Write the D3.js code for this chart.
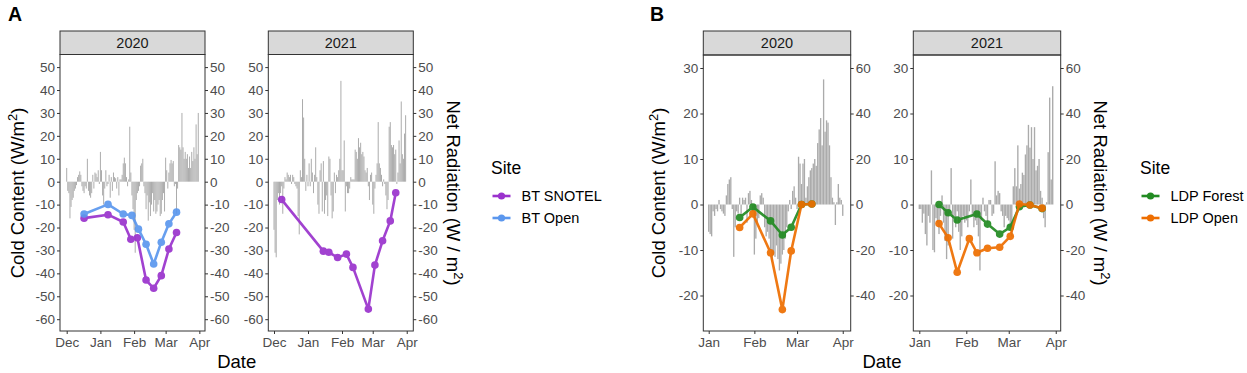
<!DOCTYPE html>
<html><head><meta charset="utf-8">
<script src="https://cdn.jsdelivr.net/npm/d3@7"></script>
<style>body{margin:0;background:#fff} svg text{font-family:"Liberation Sans",Arial,sans-serif}</style>
</head><body><svg id="c" width="1247" height="373"></svg>
<script>
// ---------------- DATA ----------------
const sitesA = ["BT SNOTEL", "BT Open"];
const sitesB = ["LDP Forest", "LDP Open"];
const years = ["2020", "2021"];

// Cold content (W/m2), panel A
const btSnotel2020Dates = ["2019-12-17","2020-01-08","2020-01-22","2020-01-29","2020-02-04","2020-02-12","2020-02-19","2020-02-26","2020-03-04","2020-03-11"];
const btSnotel2020 = [-15.9,-14.4,-17.6,-25.1,-24.5,-42.9,-46.5,-41.0,-29.4,-22.2];
const btOpen2020Dates = ["2019-12-17","2020-01-08","2020-01-22","2020-01-30","2020-02-05","2020-02-12","2020-02-19","2020-02-26","2020-03-04","2020-03-11"];
const btOpen2020 = [-14.1,-9.9,-14.1,-14.7,-20.7,-27.3,-35.9,-26.4,-18.4,-13.3];
const btSnotel2021Dates = ["2020-12-08","2021-01-15","2021-01-20","2021-01-28","2021-02-05","2021-02-11","2021-02-25","2021-03-03","2021-03-10","2021-03-17","2021-03-22"];
const btSnotel2021 = [-7.8,-30.3,-30.8,-33.1,-31.6,-37.4,-55.6,-36.4,-25.8,-17.1,-4.8];

// Cold content (W/m2), panel B
const ldp2020Dates = ["2020-01-22","2020-01-31","2020-02-12","2020-02-20","2020-02-26","2020-03-04","2020-03-11"];
const ldpForest2020 = [-2.85,-0.55,-3.6,-6.7,-5.0,0,0.1];
const ldpOpen2020 = [-5.05,-2.05,-10.6,-23.1,-10.2,0,0.1];
const ldpForest2021Dates = ["2021-01-14","2021-01-20","2021-01-26","2021-02-08","2021-02-15","2021-02-23","2021-03-02","2021-03-08","2021-03-15","2021-03-23"];
const ldpForest2021 = [0,-1.8,-3.4,-2.1,-4.3,-6.5,-5.0,-0.5,-0.1,-0.9];
const ldpOpen2021Dates = ["2021-01-14","2021-01-20","2021-01-26","2021-02-03","2021-02-08","2021-02-15","2021-02-23","2021-03-02","2021-03-08","2021-03-15","2021-03-23"];
const ldpOpen2021 = [-4.2,-7.3,-14.9,-7.5,-10.6,-9.6,-9.4,-7.0,0.1,-0.1,-0.8];

// Daily net radiation (W/m2), first day of each record
const netRadStart = ["2019-12-01","2020-12-01","2020-01-01","2021-01-01"];
const netRadA2020 = [6,-4,-5,-16,-11,-8,-7,-4,-3,-1.5,2,3,4.5,3,-2,-4,-5,-2,-3,10,-4,-6,-7,-5,3,-3,4,3.5,2,5,-1,13,5,-6,-10,-3,5,-2,-1,3,-7,2,-4,4,2,1.5,-3,2,-6,1,1,3,8,10.5,8,2,-2,1,24,4,-6,-12,-21,-31,-8,-5,-4,-2,7,8,10,-2,-5,-12,-6,-17,-9,-15,-10,-5,-13,-8,-14,-13,-10,-8,-15,-14,-8,-5,-13,10.5,5,-3,4,8,9.5,8,9,-2,-1,-14,-3,16,15,14,30,15,10,13,10,12,6,11,6,13,9,15,10,25,12,30];
const netRadA2021 = [-21,-31,-33,-8,-5,-10,-5,-2,-14,-3,2,1,4,3,2,3,-1,3,2,-1,-2,-3,-15,-23,5,2,36,28,10,-4,3,-2,8,-2,10,4,-5,3,15,2,-10,-14,5,8,-13,9,-14,-8,-6,-15,11,10,-6,-16,-13,4,-5,3,2,5,10,44,5,5,18,-13,-2,-5,-5,-3,2,1,1,1,14,13,10,19,15,17,12,13,11,5,4,6,-2,-8,3,4,-10,-14,-3,3,8,26,8,6,3,-2,1,-1,-6,-12,-8,24,26,16,15,16,12,14,-1,4,18,8,35,12,10,21,29];
const netRadB2020 = [-12,-13,-14,-3,-5,-2,-3,2,-2,-3,-4,-5,4,9,11,12,-2,-23,-10,-3,-4,3,-5,3,2,3,-8,5,6,2,-3,-22,-15,-8,-6,4,5,3,-10,-14,-12,-15,-20,-25,-22,-23,-18,-24,-29,-26,-22,-20,-15,-10,-3,2,-2,6,8,3,-2,21,18,9,18,20,3,8,12,15,16,18,20,17,27,33,38,26,55,32,37,36,26,12,3,1,-9,1,9,3,2,-5];
const netRadB2021 = [-2,-2,-8,-4,-13,-18,-5,-8,15,-20,-21,-6,-8,-13,-5,4,-8,-16,-24,-18,-4,16,-15,-5,-10,-3,-12,-20,-14,-5,-8,-7,-10,-3,11,-5,-10,-7,-9,-14,-29,-7,3,-3,-5,-8,2,2,-5,-4,19,4,6,5,-3,-5,-10,-5,-6,-7,-10,-14,8,16,8,26,7,9,14,13,22,26,35,25,34,20,34,15,17,20,6,3,-6,-10,1,23,47,11,52];

// Tick labels
const ticksA = [50,40,30,20,10,0,-10,-20,-30,-40,-50,-60];
const ticksBLeft = [30,20,10,0,-10,-20];
const ticksBRight = [60,40,20,0,-20,-40];
const monthsA2020 = ["2019-12-01","2020-01-01","2020-02-01","2020-03-01","2020-04-01"];
const monthsA2021 = ["2020-12-01","2021-01-01","2021-02-01","2021-03-01","2021-04-01"];
const monthsB2020 = ["2020-01-01","2020-02-01","2020-03-01","2020-04-01"];
const monthsB2021 = ["2021-01-01","2021-02-01","2021-03-01","2021-04-01"];

// ---------------- DRAWING ----------------
const colors = {"BT SNOTEL":"#9A32CD","BT Open":"#5B97EE","LDP Forest":"#228B22","LDP Open":"#EE6E00"};
const P = d3.utcParse("%Y-%m-%d");
const DAY = 864e5;
const svg = d3.select("#c");

function series(dates, vals){ return dates.map((d,i)=>({date:P(d), v:vals[i]})); }
function bars(start, vals){ const s=P(start); return vals.map((v,i)=>({date:d3.utcDay.offset(s,i), v})); }

function panel(o){
  const g = svg.append("g");
  const x = d3.scaleUtc().domain([new Date(+P(o.origin)+o.dom[0]*DAY), new Date(+P(o.origin)+o.dom[1]*DAY)]).range([o.x0,o.x1]);
  const y = d3.scaleLinear().domain(o.yDom).range([o.y1,o.y0]);
  const yR = d3.scaleLinear().domain(o.yDom.map(v=>v*o.factor)).range([o.y1,o.y0]);
  const bw = (x(new Date(+P(o.origin)+DAY)) - x(P(o.origin))) * 0.9;
  // strip
  g.append("rect").attr("x",o.x0).attr("y",31).attr("width",o.x1-o.x0).attr("height",o.y0-31)
    .attr("fill","#d9d9d9").attr("stroke","#333").attr("stroke-width",1);
  g.append("text").attr("x",(o.x0+o.x1)/2).attr("y",(31+o.y0)/2+5.2).attr("text-anchor","middle")
    .attr("font-size",14.5).attr("fill","#1a1a1a").text(o.label);
  // bars
  g.append("g").selectAll("rect").data(o.bars).join("rect")
    .attr("x",d=>x(d.date)-bw/2).attr("width",bw)
    .attr("y",d=>Math.min(yR(d.v),yR(0))).attr("height",d=>Math.abs(yR(d.v)-yR(0)))
    .attr("fill","#ababab");
  // lines + points
  o.series.forEach(s=>{
    const sg = g.append("g").attr("opacity",0.92);
    sg.append("path").datum(s.data).attr("fill","none").attr("stroke",colors[s.name]).attr("stroke-width",2.6)
      .attr("stroke-linejoin","round")
      .attr("d",d3.line().x(d=>x(d.date)).y(d=>y(d.v)));
    sg.selectAll("circle").data(s.data).join("circle").attr("cx",d=>x(d.date)).attr("cy",d=>y(d.v)).attr("r",3.8)
      .attr("fill",colors[s.name]);
  });
  // border
  g.append("rect").attr("x",o.x0).attr("y",o.y0).attr("width",o.x1-o.x0).attr("height",o.y1-o.y0)
    .attr("fill","none").attr("stroke","#333").attr("stroke-width",1);
  const fmt = d=>String(d);
  const style = a=>{ a.select(".domain").remove(); a.selectAll(".tick line").attr("stroke","#333");
    a.selectAll("text").attr("fill","#4d4d4d").attr("font-size",13.5).attr("font-family",'"Liberation Sans",Arial,sans-serif'); };
  g.append("g").attr("transform",`translate(${o.x0},0)`).call(d3.axisLeft(y).tickValues(o.tL).tickFormat(fmt).tickSize(3).tickPadding(2)).call(style);
  g.append("g").attr("transform",`translate(${o.x1},0)`).call(d3.axisRight(yR).tickValues(o.tR).tickFormat(fmt).tickSize(3).tickPadding(2)).call(style);
  g.append("g").attr("transform",`translate(0,${o.y1})`).call(d3.axisBottom(x).tickValues(o.months.map(P)).tickFormat(d3.utcFormat("%b")).tickSize(3).tickPadding(3)).call(style);
}

panel({label:years[0],origin:netRadStart[0],dom:[-6.16,127.2],x0:60,x1:205,y0:54.5,y1:331,yDom:[-65.15,55.5],factor:1,
  tL:ticksA,tR:ticksA,months:monthsA2020,bars:bars(netRadStart[0],netRadA2020),
  series:[{name:sitesA[0],data:series(btSnotel2020Dates,btSnotel2020)},{name:sitesA[1],data:series(btOpen2020Dates,btOpen2020)}]});
panel({label:years[1],origin:netRadStart[1],dom:[-5.2,127.0],x0:268.3,x1:413.3,y0:54.5,y1:331,yDom:[-65.15,55.5],factor:1,
  tL:ticksA,tR:ticksA,months:monthsA2021,bars:bars(netRadStart[1],netRadA2021),
  series:[{name:sitesA[0],data:series(btSnotel2021Dates,btSnotel2021)}]});
panel({label:years[0],origin:netRadStart[2],dom:[-3.67,96.4],x0:703.3,x1:850.7,y0:55,y1:331,yDom:[-27.8,32.86],factor:2,
  tL:ticksBLeft,tR:ticksBRight,months:monthsB2020,bars:bars(netRadStart[2],netRadB2020),
  series:[{name:sitesB[0],data:series(ldp2020Dates,ldpForest2020)},{name:sitesB[1],data:series(ldp2020Dates,ldpOpen2020)}]});
panel({label:years[1],origin:netRadStart[3],dom:[-3.96,93.27],x0:913.3,x1:1060.7,y0:55,y1:331,yDom:[-27.8,32.86],factor:2,
  tL:ticksBLeft,tR:ticksBRight,months:monthsB2021,bars:bars(netRadStart[3],netRadB2021),
  series:[{name:sitesB[0],data:series(ldpForest2021Dates,ldpForest2021)},{name:sitesB[1],data:series(ldpOpen2021Dates,ldpOpen2021)}]});

// titles
function rotTitle(x,y,rot,main,slash){
  const t = svg.append("text").attr("transform",`translate(${x},${y}) rotate(${rot})`).attr("text-anchor","middle")
    .attr("font-size",18.5).attr("fill","#000");
  t.append("tspan").text(main + " (W" + slash + "m");
  t.append("tspan").attr("font-size",13).attr("dy",-7).text("2");
  t.append("tspan").attr("dy",7).text(")");
}
rotTitle(23.5,193,-90,"Cold Content","/");
rotTitle(446.5,193,90,"Net Radiation"," / ");
rotTitle(665,193,-90,"Cold Content","/");
rotTitle(1093.5,193,90,"Net Radiation"," / ");
svg.append("text").attr("x",236.7).attr("y",368).attr("text-anchor","middle").attr("font-size",18.5).text("Date");
svg.append("text").attr("x",882).attr("y",368).attr("text-anchor","middle").attr("font-size",18.5).text("Date");
svg.append("text").attr("x",8).attr("y",21).attr("font-size",19.5).attr("font-weight","bold").text("A");
svg.append("text").attr("x",650).attr("y",21).attr("font-size",19.5).attr("font-weight","bold").text("B");

// legends
function legend(x,sites){
  const g = svg.append("g");
  g.append("text").attr("x",x).attr("y",174.3).attr("font-size",17.5).text("Site");
  sites.forEach((s,i)=>{
    const yy = 196 + i*22;
    g.append("line").attr("x1",x+1.5).attr("x2",x+19.5).attr("y1",yy).attr("y2",yy).attr("stroke",colors[s]).attr("stroke-width",2.6);
    g.append("circle").attr("cx",x+10.5).attr("cy",yy).attr("r",3.6).attr("fill",colors[s]);
    g.append("text").attr("x",x+30.5).attr("y",yy+5.2).attr("font-size",14.5).text(s);
  });
}
legend(491,sitesA);
legend(1140,sitesB);
</script></body></html>
